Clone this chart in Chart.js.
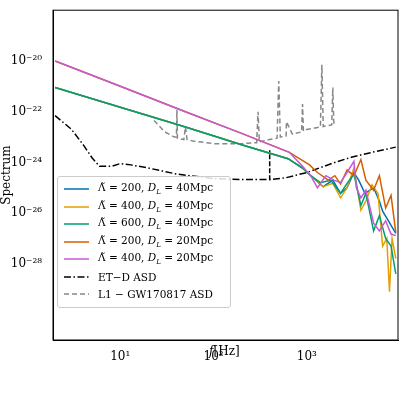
<!DOCTYPE html><html><head><script src="https://cdn.jsdelivr.net/npm/chart.js@4"></script>
<style>body{margin:0;background:#fff}#w{position:relative;width:400px;height:400px}
#lg{position:absolute;left:57px;top:176px;width:172px;height:130px;border:1px solid #ccc;border-radius:3px;background:rgba(255,255,255,0.85);font:10.5px "DejaVu Serif",serif;}
.it{position:absolute;left:6px;height:14px;display:flex;align-items:center}
.sw{width:25px;height:4px;margin-right:9px}
sub{font-size:7px}</style></head><body><div id="w"><canvas id="c" width="400" height="400"></canvas>
<div id="lg"></div></div>
<script>
const magF=[2,10,50,200,650,870,1100,1300,1600,1950,2300,2700,3200,3400,3800,4300,5200,6000,7000,8000,9000];
const magV=[1e-20,1e-21,1e-22,1.4e-23,2.5e-24,8e-25,3e-25,1e-25,3e-25,2e-25,1.6e-25,4e-25,1.1e-24,1e-25,4e-26,8e-26,4e-27,2e-27,5e-27,1.5e-27,1.3e-27];
const redF=[2,10,50,200,650,1070,1300,1700,2000,2300,2700,3200,3800,4300,5200,6000,7000,8000,9000];
const redV=[1e-20,1e-21,1e-22,1.4e-23,2.5e-24,8e-25,4e-25,2e-25,3e-25,1.4e-25,5e-25,3e-25,1.3e-24,2e-25,8e-26,3e-25,1.6e-26,5e-26,1.7e-27];
const grnF=[2,10,50,200,630,900,1100,1400,1800,2300,2700,3200,3800,4300,5200,6000,7000,8000,9000];
const grnV=[9e-22,1.5e-22,2.5e-23,5e-24,1.4e-24,6e-25,3e-25,1.6e-25,2e-25,6e-26,1.5e-25,3.5e-25,2e-26,6e-26,2e-27,8e-27,1e-27,5e-28,4e-29];
const bluF=[2,10,50,200,630,900,1100,1500,1900,2300,2700,3200,3600,4200,5200,6000,6500,7500,9000];
const bluV=[9e-22,1.5e-22,2.5e-23,5e-24,1.4e-24,6e-25,3e-25,1.1e-25,2e-25,6e-26,1e-25,4e-25,2e-25,6e-26,1e-25,3e-26,1.2e-26,5e-27,1.6e-27];
const orgF=[2,10,50,200,630,900,1100,1500,1900,2300,2700,3200,3800,4300,5000,5800,6500,7200,7700,8200,9000];
const orgV=[9e-22,1.5e-22,2.5e-23,5e-24,1.4e-24,6e-25,3e-25,1.1e-25,1.5e-25,4e-26,1e-25,6e-25,1.3e-26,3e-26,1.3e-25,6e-26,5e-28,1e-27,8e-30,1e-27,1.6e-28];
const etF=[2,3,4,5,6,8,10,13,20,40,100,200,400,400.1,600,1000,2000,3000,5000,9000];
const etV=[7e-23,2e-23,5e-24,1.5e-24,7e-25,7e-25,9e-25,8e-25,6e-25,3.5e-25,2.3e-25,2.1e-25,2.1e-25,2.1e-25,2.5e-25,4e-25,1e-24,1.6e-24,2.5e-24,4e-24];
const stepF=[400,400];
const stepV=[2e-25,3e-24];
const l1F=[23,30,38,40,40.5,41,48,50,52,60,100,200,290,300,310,400,480,500,520,600,605,700,880,900,920,1000,1400,1450,1500,1850,1900,1950];
const l1V=[4.5e-23,1.6e-23,1e-23,1e-23,1.2e-22,9e-24,8e-24,2.5e-23,8e-24,7e-24,5.5e-24,5.5e-24,6e-24,1e-22,6.5e-24,8e-24,9e-24,1.6e-21,1e-23,1.1e-23,4e-23,1.3e-23,1.6e-23,2e-22,1.7e-23,2e-23,2.5e-23,7e-21,2.6e-23,3e-23,9e-22,3e-23];
const xTicks=[10,100,1000];
const yTicks=[1e-20,1e-22,1e-24,1e-26,1e-28];
const sup={'-':'⁻','0':'⁰','1':'¹','2':'²','3':'³','4':'⁴','5':'⁵','6':'⁶','7':'⁷','8':'⁸','9':'⁹'};
const pw=v=>'10'+String(Math.round(Math.log10(v))).split('').map(c=>sup[c]).join('');
const z=(f,v)=>f.map((x,i)=>({x,y:v[i]}));
const ds=(f,v,c,o={})=>Object.assign({data:z(f,v),borderColor:c,borderWidth:1.5,pointRadius:0,showLine:true,fill:false},o);
const serif='"DejaVu Serif",serif';
new Chart(document.getElementById('c'),{type:'scatter',data:{datasets:[
ds(magF,magV,'#c55ad6'),ds(redF,redV,'#D55E00'),
ds(grnF,grnV,'#009E73'),ds(orgF,orgV,'#E69F00'),ds(bluF,bluV,'#0072B2'),
ds(stepF,stepV,'#000',{borderDash:[5,2]}),
ds(etF,etV,'#000',{borderDash:[7,2.5,1.5,2.5]}),
ds(l1F,l1V,'#888',{borderDash:[5,3]})]},
options:{animation:false,responsive:false,layout:{padding:{top:8,right:2,bottom:38}},plugins:{legend:{display:false},tooltip:{enabled:false}},
scales:{x:{type:'logarithmic',min:1.9,max:9500,grid:{display:false},border:{color:'#000'},
afterBuildTicks:s=>{s.ticks=xTicks.map(v=>({value:v}))},afterFit:s=>{s.height=22},
ticks:{color:'#000',maxRotation:0,padding:2,font:{family:serif,size:12},callback:v=>pw(v)},
title:{display:false}},
y:{type:'logarithmic',min:1e-31,max:1e-18,grid:{display:false},border:{color:'#000'},
afterBuildTicks:s=>{s.ticks=yTicks.map(v=>({value:v}))},afterFit:s=>{s.width=53},
ticks:{color:'#000',font:{family:serif,size:12},callback:v=>pw(v)},
title:{display:true,text:'Spectrum',color:'#000',font:{family:serif,size:12},padding:0}}}},
plugins:[{id:'frame',afterDraw(c){const a=c.chartArea,x=c.ctx;x.save();x.strokeStyle='#000';x.lineWidth=1;x.strokeRect(a.left,a.top,a.right-a.left,a.bottom-a.top);
x.fillStyle='#000';x.textAlign='center';x.textBaseline='middle';x.font='italic 12px '+serif;const cx=(a.left+a.right)/2;x.textAlign='right';x.fillText('f',cx-12,352);x.font='12px '+serif;x.textAlign='left';x.fillText('[Hz]',cx-12,352);x.restore();}}]});
const items=[['#0072B2','','Λ̃ = 200, <i>D</i><sub><i>L</i></sub> = 40Mpc'],['#E69F00','','Λ̃ = 400, <i>D</i><sub><i>L</i></sub> = 40Mpc'],['#009E73','','Λ̃ = 600, <i>D</i><sub><i>L</i></sub> = 40Mpc'],['#D55E00','','Λ̃ = 200, <i>D</i><sub><i>L</i></sub> = 20Mpc'],['#c55ad6','','Λ̃ = 400, <i>D</i><sub><i>L</i></sub> = 20Mpc'],['#000','7 2.5 1.5 2.5','ET−D ASD'],['#888','5 3','L1 − GW170817 ASD']];
const lg=document.getElementById('lg');
items.forEach((it,i)=>{const d=document.createElement('div');d.className='it';d.style.top=(5+i*17.5)+'px';
const da=it[1]?' stroke-dasharray="'+it[1]+'"':'';
d.innerHTML='<svg class="sw" width="25" height="4"><line x1="0" y1="2" x2="25" y2="2" stroke="'+it[0]+'" stroke-width="1.5"'+da+'/></svg><span>'+it[2]+'</span>';lg.appendChild(d);});
</script></body></html>
